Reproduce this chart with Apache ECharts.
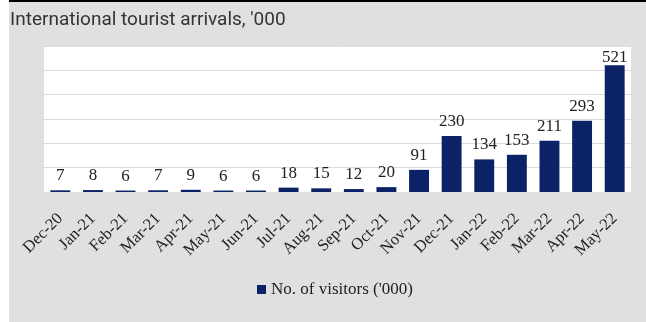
<!DOCTYPE html>
<html>
<head>
<meta charset="utf-8">
<script src="https://cdn.jsdelivr.net/npm/echarts@6/dist/echarts.min.js"></script>
<style>
  html, body { margin: 0; padding: 0; background: #ffffff; }
  #chart { width: 646px; height: 322px; }
</style>
</head>
<body>
<div id="chart"></div>
<script>
// Monthly international tourist arrivals, thousands
const months = ['Dec-20', 'Jan-21', 'Feb-21', 'Mar-21', 'Apr-21', 'May-21', 'Jun-21', 'Jul-21', 'Aug-21',
  'Sep-21', 'Oct-21', 'Nov-21', 'Dec-21', 'Jan-22', 'Feb-22', 'Mar-22', 'Apr-22', 'May-22'];
const visitors = [7, 8, 6, 7, 9, 6, 6, 18, 15, 12, 20, 91, 230, 134, 153, 211, 293, 521];
const seriesName = "No. of visitors ('000)";
const titleText = "International tourist arrivals, '000";

const chart = echarts.init(document.getElementById('chart'), null, { renderer: 'canvas' });
const serif = 'Liberation Serif';

const yMax = 600;
const plotHeight = 146;
const labelFont = 17;

// Keep value labels inside the plot area: tall bars get their label pulled closer.
function labelDistance(v) {
  const barTop = (yMax - v) / yMax * plotHeight;
  return Math.min(6, barTop - labelFont - 3);
}
const barData = visitors.map(v => ({ value: v, label: { distance: labelDistance(v) } }));

chart.setOption({
  backgroundColor: '#ffffff',
  animation: false,
  graphic: [
    { type: 'rect', z: -10, shape: { x: 9, y: 0, width: 637, height: 322 }, style: { fill: '#e0e0e0' } },
    { type: 'rect', z: -9, shape: { x: 9, y: 0, width: 637, height: 2 }, style: { fill: '#000000' } }
  ],
  title: {
    text: titleText,
    left: 5, top: 6,
    textStyle: { fontFamily: 'Roboto', fontSize: 19, fontWeight: 'normal', color: '#333333' }
  },
  grid: {
    left: 44, top: 46, width: 587, height: plotHeight,
    show: true, backgroundColor: '#ffffff', borderWidth: 0
  },
  legend: {
    data: [seriesName],
    left: 252, top: 276,
    icon: 'rect', itemWidth: 9, itemHeight: 9, itemGap: 5,
    textStyle: { fontFamily: serif, fontSize: 17, color: '#222222' }
  },
  xAxis: {
    type: 'category',
    data: months,
    axisLine: { show: false },
    axisTick: { show: false },
    axisLabel: {
      rotate: 45, interval: 0, margin: 24,
      fontFamily: serif, fontSize: 16.5, color: '#222222'
    }
  },
  yAxis: {
    type: 'value',
    min: 0, max: yMax, interval: 100,
    axisLabel: { show: false },
    axisLine: { show: false },
    axisTick: { show: false },
    splitLine: { lineStyle: { color: '#dcdcdc', width: 1 } }
  },
  series: [{
    name: seriesName,
    type: 'bar',
    data: barData,
    barWidth: '61%',
    itemStyle: { color: '#0b2266' },
    label: {
      show: true, position: 'top',
      fontFamily: serif, fontSize: labelFont, color: '#222222'
    }
  }]
});
</script>
</body>
</html>
